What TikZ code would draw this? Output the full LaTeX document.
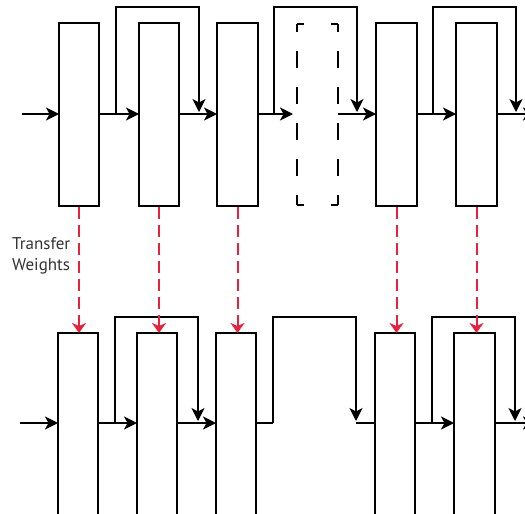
\documentclass[tikz,border=0pt]{standalone}
\usepackage{fontspec}
\setmainfont{PT Sans}
\usetikzlibrary{arrows.meta}
\definecolor{xred}{RGB}{232,33,60}
\definecolor{txtgray}{RGB}{50,50,50}
\begin{document}
\begin{tikzpicture}[x=1pt,y=-1pt,
  blk/.style={draw=black, line width=2pt, minimum width=40pt, minimum height=183pt, inner sep=0pt, outer sep=0pt, fill=white},
  ghost/.style={draw=none, minimum width=41pt, minimum height=181pt, inner sep=0pt, outer sep=0pt},
  dv/.style={line width=2pt, dash pattern=on 17pt off 19pt, dash phase=9pt},
  dh/.style={line width=2pt, dash pattern=on 7pt off 27pt},
  conn/.style={line width=1.5pt, -{Stealth[length=13pt,width=13pt,inset=3.5pt]}},
  plain/.style={line width=1.2pt},
  skipline/.style={line width=1.2pt, -{Stealth[length=13pt,width=13pt,inset=3.5pt]}},
  xfer/.style={draw=xred, line width=2pt, dash pattern=on 12pt off 6pt, -{Stealth[length=10pt,width=14pt,inset=3pt]}},
  lbl/.style={anchor=base west, inner sep=0pt, text=txtgray, font=\fontsize{17}{21}\selectfont}
]
\useasboundingbox (0,0) rectangle (525,514);
\clip (0,0) rectangle (525,514);

% ---------- top row ----------
\node[blk] (t1) at (79,114.5) {};
\node[blk] (t2) at (159,114.5) {};
\node[blk, minimum width=41pt] (t3) at (237.5,114.5) {};
\node[ghost] (t4) at (317.5,114.5) {};
\node[blk, minimum width=41pt] (t5) at (396.5,114.5) {};
\node[blk, minimum width=41pt] (t6) at (476.5,114.5) {};

\draw[dv] (t4.north west) -- (t4.south west);
\draw[dv] (t4.north east) -- (t4.south east);
\draw[dh] (t4.north west) -- (t4.north east);
\draw[dh] (t4.south west) -- (t4.south east);
\draw[dh] (t4.north east) -- (t4.north west);
\draw[dh] (t4.south east) -- (t4.south west);

\coordinate (tin) at (22,114);
\coordinate (tout) at (536,114);
\draw[conn] (tin) -- (t1.west |- tin);
\draw[conn] (t1.east |- tin) -- (t2.west |- tin);
\draw[conn] (t2.east |- tin) -- (t3.west |- tin);
\draw[conn] (t3.east |- tin) -- ([xshift=-4pt]t4.west |- tin);
\draw[conn] (t4.east |- tin) -- (t5.west |- tin);
\draw[conn] (t5.east |- tin) -- (t6.west |- tin);
\draw[conn] (t6.east |- tin) -- (tout);

\coordinate (ts1a) at (116,114); \coordinate (ts1b) at (199,7); \coordinate (ts1c) at (199,112);
\coordinate (ts2a) at (274,114); \coordinate (ts2b) at (357,7); \coordinate (ts2c) at (357,112);
\coordinate (ts3a) at (433,114); \coordinate (ts3b) at (516,7); \coordinate (ts3c) at (516,112);
\draw[skipline] (ts1a) |- (ts1b) -- (ts1c);
\draw[skipline] (ts2a) |- (ts2b) -- (ts2c);
\draw[skipline] (ts3a) |- (ts3b) -- (ts3c);

% ---------- bottom row ----------
\node[blk] (b1) at (78,424.5) {};
\node[blk] (b2) at (157,424.5) {};
\node[blk] (b3) at (236,424.5) {};
\node[blk] (b4) at (395,424.5) {};
\node[blk, minimum width=41pt] (b5) at (474.5,424.5) {};

\coordinate (bin) at (20,423);
\coordinate (bout) at (536,423);
\draw[conn] (bin) -- (b1.west |- bin);
\draw[conn] (b1.east |- bin) -- (b2.west |- bin);
\draw[conn] (b2.east |- bin) -- (b3.west |- bin);
\draw[conn] (b4.east |- bin) -- (b5.west |- bin);
\draw[conn] (b5.east |- bin) -- (bout);

\coordinate (bs1a) at (115,423); \coordinate (bs1b) at (198,317); \coordinate (bs1c) at (198,421);
\coordinate (bs2a) at (273,423); \coordinate (bs2b) at (356,317); \coordinate (bs2c) at (356,421);
\coordinate (bs2d) at (356,423);
\coordinate (bs3a) at (432,423); \coordinate (bs3b) at (515,317); \coordinate (bs3c) at (515,421);
\draw[skipline] (bs1a) |- (bs1b) -- (bs1c);
\draw[plain] (b3.east |- bin) -- (bs2a);
\draw[skipline] (bs2a) |- (bs2b) -- (bs2c);
\draw[plain] (bs2d) -- (b4.west |- bin);
\draw[skipline] (bs3a) |- (bs3b) -- (bs3c);

% ---------- weight transfer ----------
\draw[xfer] ([yshift=-1pt]t1.south) -- (t1.south |- b1.north);
\draw[xfer] ([yshift=-1pt]t2.south) -- (t2.south |- b2.north);
\draw[xfer] ([yshift=-1pt]t3.south) -- (t3.south |- b3.north);
\draw[xfer] ([yshift=-1pt]t5.south) -- (t5.south |- b4.north);
\draw[xfer] ([yshift=-1pt]t6.south) -- (t6.south |- b5.north);

\node[lbl] (tw1) at (12,249) {Transfer};
\node[lbl] (tw2) at (12,270) {Weights};
\end{tikzpicture}
\end{document}
